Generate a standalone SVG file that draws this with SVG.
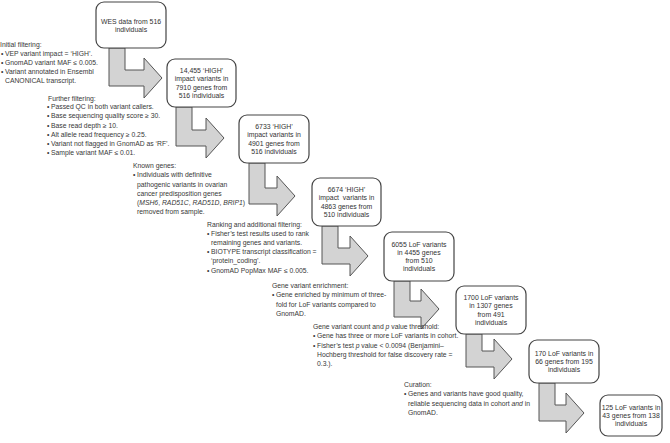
<svg xmlns="http://www.w3.org/2000/svg" width="670" height="443" viewBox="0 0 670 443">
<style>
.box rect{fill:#fff;stroke:#444;stroke-width:1.2}
.bt{font-family:"Liberation Sans",Arial,sans-serif;font-size:6.9px;fill:#333;text-anchor:middle}
.st{font-family:"Liberation Sans",Arial,sans-serif;font-size:6.8px;fill:#383838}
.arr{fill:#d3d3d3;stroke:#555;stroke-width:1}
.i{font-style:italic}
</style>
<rect width="670" height="443" fill="#fff"/>
<g id="connectors">
<path class="arr" d="M109,48 V86 H144 V98 L162,78 L144,58 V70 H125 V48 Z"/>
<path class="arr" d="M176,107 V146 H206 V158 L224,138 L206,118 V130 H192 V107 Z"/>
<path class="arr" d="M249,163 V204 H277 V216 L295,196 L277,176 V188 H265 V163 Z"/>
<path class="arr" d="M322,226 V264 H350 V276 L368,256 L350,236 V248 H338 V226 Z"/>
<path class="arr" d="M394,281 V317 H421 V329 L439,309 L421,289 V301 H410 V281 Z"/>
<path class="arr" d="M466,334 V367 H494 V379 L512,359 L494,339 V351 H482 V334 Z"/>
<path class="arr" d="M539,383 V421 H566 V433 L584,413 L566,393 V405 H555 V383 Z"/>
</g>
<g id="box1" class="box"><rect x="96" y="2" width="70" height="46" rx="8"/>
<text class="bt" x="131" y="23.5">WES data from 516</text><text class="bt" x="131" y="31.8">individuals</text></g>
<g id="box2" class="box"><rect x="167" y="59" width="69" height="48" rx="8"/>
<text class="bt" x="201.5" y="73">14,455 ‘HIGH’</text><text class="bt" x="201.5" y="81.3">impact variants in</text><text class="bt" x="201.5" y="89.6">7910 genes from</text><text class="bt" x="201.5" y="97.9">516 individuals</text></g>
<g id="box3" class="box"><rect x="239" y="115" width="70" height="48" rx="8"/>
<text class="bt" x="274" y="129">6733 ‘HIGH’</text><text class="bt" x="274" y="137.3">impact variants in</text><text class="bt" x="274" y="145.6">4901 genes from</text><text class="bt" x="274" y="153.9">516 individuals</text></g>
<g id="box4" class="box"><rect x="312" y="178" width="69" height="48" rx="8"/>
<text class="bt" x="346.5" y="192">6674 ‘HIGH’</text><text class="bt" x="346.5" y="200.3" xml:space="preserve">impact  variants in</text><text class="bt" x="346.5" y="208.6">4863 genes from</text><text class="bt" x="346.5" y="216.9">510 individuals</text></g>
<g id="box5" class="box"><rect x="384" y="232" width="70" height="49" rx="8"/>
<text class="bt" x="419" y="246.5">6055 LoF variants</text><text class="bt" x="419" y="254.8">in 4455 genes</text><text class="bt" x="419" y="263.1">from 510</text><text class="bt" x="419" y="271.4">individuals</text></g>
<g id="box6" class="box"><rect x="456" y="286" width="70" height="48" rx="8"/>
<text class="bt" x="491" y="300">1700 LoF variants</text><text class="bt" x="491" y="308.3">in 1307 genes</text><text class="bt" x="491" y="316.6">from 491</text><text class="bt" x="491" y="324.9">individuals</text></g>
<g id="box7" class="box"><rect x="529" y="340" width="70" height="43" rx="8"/>
<text class="bt" x="564" y="355.7">170 LoF variants in</text><text class="bt" x="564" y="364">66 genes from 195</text><text class="bt" x="564" y="372.3">individuals</text></g>
<g id="box8" class="box"><rect x="600" y="395" width="62" height="41" rx="8"/>
<text class="bt" x="631" y="409.7">125 LoF variants in</text><text class="bt" x="631" y="418">43 genes from 138</text><text class="bt" x="631" y="426.3">individuals</text></g>
<g id="note1" class="st">
<text x="0" y="46.5">Initial filtering:</text>
<text x="1" y="55.7">•</text><text x="5" y="55.7">VEP variant impact = ‘HIGH’.</text>
<text x="1" y="64.9">•</text><text x="5" y="64.9">GnomAD variant MAF ≤ 0.005.</text>
<text x="1" y="74.1">•</text><text x="5" y="74.1">Variant annotated in Ensembl</text>
<text x="5" y="83.3">CANONICAL transcript.</text>
</g>
<g id="note2" class="st">
<text x="48" y="100.5">Further filtering:</text>
<text x="47" y="109.2">•</text><text x="51" y="109.2">Passed QC in both variant callers.</text>
<text x="47" y="118.4">•</text><text x="51" y="118.4">Base sequencing quality score ≥ 30.</text>
<text x="47" y="127.6">•</text><text x="51" y="127.6">Base read depth ≥ 10.</text>
<text x="47" y="136.8">•</text><text x="51" y="136.8">Alt allele read frequency ≥ 0.25.</text>
<text x="47" y="146">•</text><text x="51" y="146">Variant not flagged in GnomAD as ‘RF’.</text>
<text x="47" y="155.2">•</text><text x="51" y="155.2">Sample variant MAF ≤ 0.01.</text>
</g>
<g id="note3" class="st">
<text x="133" y="168">Known genes:</text>
<text x="133" y="177.4">•</text><text x="137" y="177.4">Individuals with definitive</text>
<text x="137" y="186.6">pathogenic variants in ovarian</text>
<text x="137" y="195.8">cancer predisposition genes</text>
<text x="137" y="205">(<tspan class="i">MSH6</tspan>, <tspan class="i">RAD51C</tspan>, <tspan class="i">RAD51D</tspan>, <tspan class="i">BRIP1</tspan>)</text>
<text x="137" y="214.2">removed from sample.</text>
</g>
<g id="note4" class="st">
<text x="207" y="226.5">Ranking and additional filtering:</text>
<text x="207" y="235.8">•</text><text x="211" y="235.8">Fisher’s test results used to rank</text>
<text x="211" y="245">remaining genes and variants.</text>
<text x="207" y="254.2">•</text><text x="211" y="254.2">BIOTYPE transcript classification =</text>
<text x="211" y="263.4">‘protein_coding’.</text>
<text x="207" y="272.6">•</text><text x="211" y="272.6">GnomAD PopMax MAF ≤ 0.005.</text>
</g>
<g id="note5" class="st">
<text x="272" y="288">Gene variant enrichment:</text>
<text x="272" y="297.4">•</text><text x="276" y="297.4">Gene enriched by minimum of three-</text>
<text x="276" y="306.6">fold for LoF variants compared to</text>
<text x="276" y="315.8">GnomAD.</text>
</g>
<g id="note6" class="st">
<text x="313" y="329">Gene variant count and <tspan class="i">p</tspan> value threshold:</text>
<text x="313" y="338.4">•</text><text x="317" y="338.4">Gene has three or more LoF variants in cohort.</text>
<text x="313" y="347.6">•</text><text x="317" y="347.6">Fisher’s test <tspan class="i">p</tspan> value &lt; 0.0094 (Benjamini–</text>
<text x="317" y="356.8">Hochberg threshold for false discovery rate =</text>
<text x="317" y="366">0.3.).</text>
</g>
<g id="note7" class="st">
<text x="404" y="387">Curation:</text>
<text x="404" y="396.4">•</text><text x="408" y="396.4">Genes and variants have good quality,</text>
<text x="408" y="405.6">reliable sequencing data in cohort <tspan class="i">and</tspan> in</text>
<text x="408" y="414.8">GnomAD.</text>
</g>
</svg>
